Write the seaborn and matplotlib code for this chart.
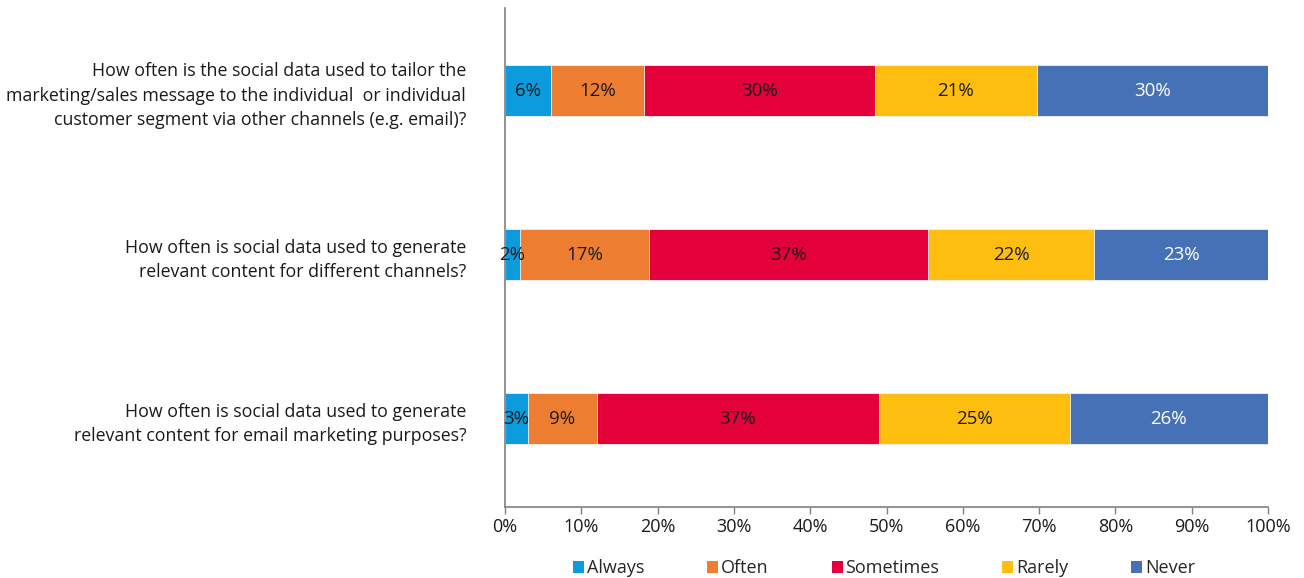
import numpy as np
import pandas as pd
import matplotlib
matplotlib.use("Agg")
import matplotlib.pyplot as plt
from matplotlib.patches import Patch
import seaborn as sns

questions = [
    "How often is the social data used to tailor the\nmarketing/sales message to the individual  or individual\ncustomer segment via other channels (e.g. email)?",
    "How often is social data used to generate\nrelevant content for different channels?",
    "How often is social data used to generate\nrelevant content for email marketing purposes?",
]
responses = ["Always", "Often", "Sometimes", "Rarely", "Never"]
always = [6, 2, 3]
often = [12, 17, 9]
sometimes = [30, 37, 37]
rarely = [21, 22, 25]
never = [30, 23, 26]
colors = ["#0C9BDC", "#ED7D31", "#E4003A", "#FDBE10", "#4771B6"]
label_colors = ["#1a1a1a", "#1a1a1a", "#1a1a1a", "#1a1a1a", "#ffffff"]
tick_labels = ["0%", "10%", "20%", "30%", "40%", "50%", "60%", "70%", "80%", "90%", "100%"]

sns.set_theme(style="white")
plt.rcParams["font.family"] = ["Open Sans", "DejaVu Sans"]

df = pd.DataFrame({
    "question": questions,
    "Always": always, "Often": often, "Sometimes": sometimes,
    "Rarely": rarely, "Never": never,
})
vals = df[responses].to_numpy(dtype=float)
shares = vals / vals.sum(axis=1, keepdims=True) * 100
cum = np.cumsum(shares, axis=1)

fig = plt.figure(figsize=(13.04, 5.78), dpi=100)
ax = fig.add_axes([0.3873, 0.1228, 0.9724 - 0.3873, 0.986 - 0.1228])

# stacked bars: draw cumulative totals from the outermost segment inward
for j in range(len(responses) - 1, -1, -1):
    sns.barplot(x=cum[:, j], y=df["question"], orient="h", color=colors[j],
                width=0.31, ax=ax, edgecolor="#f2f2f2", linewidth=0.6,
                saturation=1)

for i in range(len(questions)):
    for j in range(len(responses)):
        center = cum[i, j] - shares[i, j] / 2
        ax.text(center, i, f"{int(vals[i, j])}%", ha="center", va="center",
                fontsize=13.5, color=label_colors[j])

ax.set_xlim(0, 100)
ax.set_ylim(2.537, -0.503)
ax.set_xticks(np.arange(0, 101, 10))
ax.set_xticklabels(tick_labels, fontsize=13, color="#1a1a1a")
ax.set_xlabel("")
ax.set_ylabel("")
ax.tick_params(axis="y", length=0, pad=28, labelsize=12.8, labelcolor="#1a1a1a")
ax.tick_params(axis="x", length=5, width=1, color="#808080", direction="out",
               bottom=True, pad=3)
for lbl in ax.get_yticklabels():
    lbl.set_horizontalalignment("right")
    lbl.set_multialignment("right")
    lbl.set_linespacing(1.45)

for s in ["top", "right"]:
    ax.spines[s].set_visible(False)
for s in ["left", "bottom"]:
    ax.spines[s].set_color("#808080")
    ax.spines[s].set_linewidth(1.2)

handles = [Patch(facecolor=c, edgecolor="none", label=r) for c, r in zip(colors, responses)]
fig.legend(handles=handles, loc="center", bbox_to_anchor=(0.678, 0.017), ncol=5,
           frameon=False, fontsize=13, handlelength=0.6, handleheight=0.6,
           handletextpad=0.15, columnspacing=3.5)

fig.savefig("out.png", dpi=100)
